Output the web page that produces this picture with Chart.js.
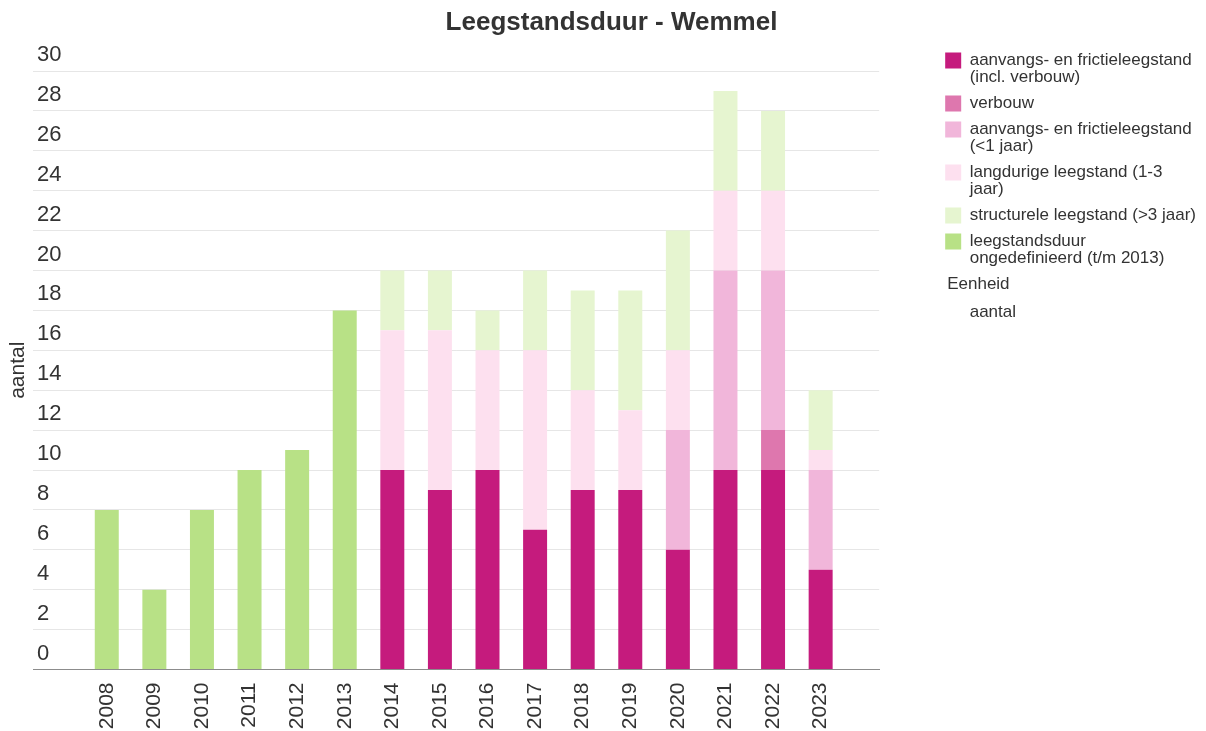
<!DOCTYPE html>
<html>
<head>
<meta charset="utf-8">
<script src="https://cdn.jsdelivr.net/npm/chart.js@4/dist/chart.umd.min.js"></script>
<style>
  body { margin: 0; background: #ffffff; }
  #wrap { width: 1206px; height: 731px; position: relative; }
</style>
</head>
<body>
<div id="wrap"><canvas id="grafiek"></canvas></div>
<script>
const categories = ["2008", "2009", "2010", "2011", "2012", "2013", "2014", "2015",
                    "2016", "2017", "2018", "2019", "2020", "2021", "2022", "2023"];

const inclVerbouw   = [null, null, null, null, null, null, 10, 9, 10, 7, 9, 9, 6, 10, 10, 5];
const verbouw       = [null, null, null, null, null, null, null, null, null, null, null, null, null, null, 2, null];
const minderDan1    = [null, null, null, null, null, null, null, null, null, null, null, null, 6, 10, 8, 5];
const langdurig     = [null, null, null, null, null, null, 7, 8, 6, 9, 5, 4, 4, 4, 4, 1];
const structureel   = [null, null, null, null, null, null, 3, 3, 2, 4, 5, 6, 6, 5, 4, 3];
const ongedefinieerd = [8, 4, 8, 10, 11, 18, null, null, null, null, null, null, null, null, null, null];

const yTicks = [0, 2, 4, 6, 8, 10, 12, 14, 16, 18, 20, 22, 24, 26, 28, 30];

const legendLines = [
    ["aanvangs- en frictieleegstand", "(incl. verbouw)"],
    ["verbouw"],
    ["aanvangs- en frictieleegstand", "(<1 jaar)"],
    ["langdurige leegstand (1-3", "jaar)"],
    ["structurele leegstand (>3 jaar)"],
    ["leegstandsduur", "ongedefinieerd (t/m 2013)"]
];
const kleuren = ["#c51b7d", "#de77ae", "#f1b6da", "#fde0ef", "#e6f5d0", "#b8e186"];
const reeksen = [inclVerbouw, verbouw, minderDan1, langdurig, structureel, ongedefinieerd];

const lettertype = "'Liberation Sans', Arial, sans-serif";
const tekstkleur = "#333333";

// jaartallen als getallen op de x-as
const punten = (reeks) => categories.map((jaar, i) => ({ x: Number(jaar), y: reeks[i] }));

// Eenheid + aantal onder de legende
const eenheidPlugin = {
    id: "eenheid",
    afterDraw(chart) {
        const legend = chart.legend
        const boxes = legend.legendHitBoxes
        if (!boxes || !boxes.length) return
        const laatste = boxes[boxes.length - 1]
        const ctx = chart.ctx
        ctx.save()
        ctx.font = "17px " + lettertype
        ctx.fillStyle = tekstkleur
        ctx.textBaseline = "middle"
        ctx.textAlign = "left"
        const y = laatste.top + laatste.height + 9 + 8.5
        ctx.fillText("Eenheid", boxes[0].left + 2, y)
        ctx.fillText("aantal", boxes[0].left + 16 + 8.5, y + 28)
        ctx.restore()
    }
}

new Chart(document.getElementById("grafiek"), {
    type: "bar",
    data: {
        datasets: reeksen.map((reeks, i) => ({
            label: legendLines[i].join(" "),
            data: punten(reeks),
            backgroundColor: kleuren[i],
            borderWidth: 0,
            barPercentage: 0.63,
            categoryPercentage: 0.8
        }))
    },
    plugins: [eenheidPlugin],
    options: {
        responsive: true,
        maintainAspectRatio: false,
        animation: false,
        layout: { padding: { left: 17, right: 0, top: 0, bottom: 0 } },
        scales: {
            x: {
                type: "linear",
                stacked: true,
                offset: false,
                min: 2006.45,
                max: 2024.23,
                grid: { display: false, drawTicks: false, offset: false },
                border: { display: true, color: "#8c8c8c", width: 1 },
                ticks: {
                    stepSize: 1,
                    includeBounds: false,
                    autoSkip: false,
                    minRotation: 90,
                    maxRotation: 90,
                    padding: 13,
                    color: tekstkleur,
                    font: { family: lettertype, size: 21 },
                    callback: (waarde) => categories.includes(String(waarde)) ? String(waarde) : ""
                },
                afterFit: (schaal) => { schaal.height = 61.5 }
            },
            y: {
                stacked: true,
                min: 0,
                max: 30,
                grid: { color: "#e6e6e6", lineWidth: 1, drawTicks: false },
                border: { display: false },
                afterBuildTicks: (schaal) => { schaal.ticks = yTicks.map(v => ({ value: v })) },
                ticks: {
                    mirror: true,
                    padding: 4,
                    labelOffset: -16,
                    color: tekstkleur,
                    font: { family: lettertype, size: 22 }
                },
                title: {
                    display: true,
                    text: "aantal",
                    color: tekstkleur,
                    font: { family: lettertype, size: 21 },
                    padding: { top: -11, bottom: 0 }
                },
                afterFit: (schaal) => { schaal.width = 16 }
            },
            ruimte: {
                position: "right",
                display: true,
                grid: { display: false, drawTicks: false },
                border: { display: false },
                ticks: { display: false },
                afterFit: (schaal) => { schaal.width = 57 }
            }
        },
        plugins: {
            title: {
                display: true,
                text: "Leegstandsduur - Wemmel",
                color: tekstkleur,
                font: { family: lettertype, size: 26, weight: "bold" },
                padding: { top: 7, bottom: 32.8 }
            },
            legend: {
                position: "right",
                align: "start",
                maxWidth: 320,
                title: {
                    display: true,
                    text: "",
                    font: { size: 10, lineHeight: 1 },
                    padding: { top: 33, bottom: 0 }
                },
                labels: {
                    boxWidth: 16,
                    boxHeight: 16,
                    padding: 9,
                    color: tekstkleur,
                    font: { family: lettertype, size: 17, lineHeight: 1 },
                    generateLabels: (chart) => Chart.defaults.plugins.legend.labels.generateLabels(chart)
                        .map((item, i) => ({ ...item, text: legendLines[i] }))
                }
            },
            tooltip: { enabled: false }
        }
    }
});
</script>
</body>
</html>
